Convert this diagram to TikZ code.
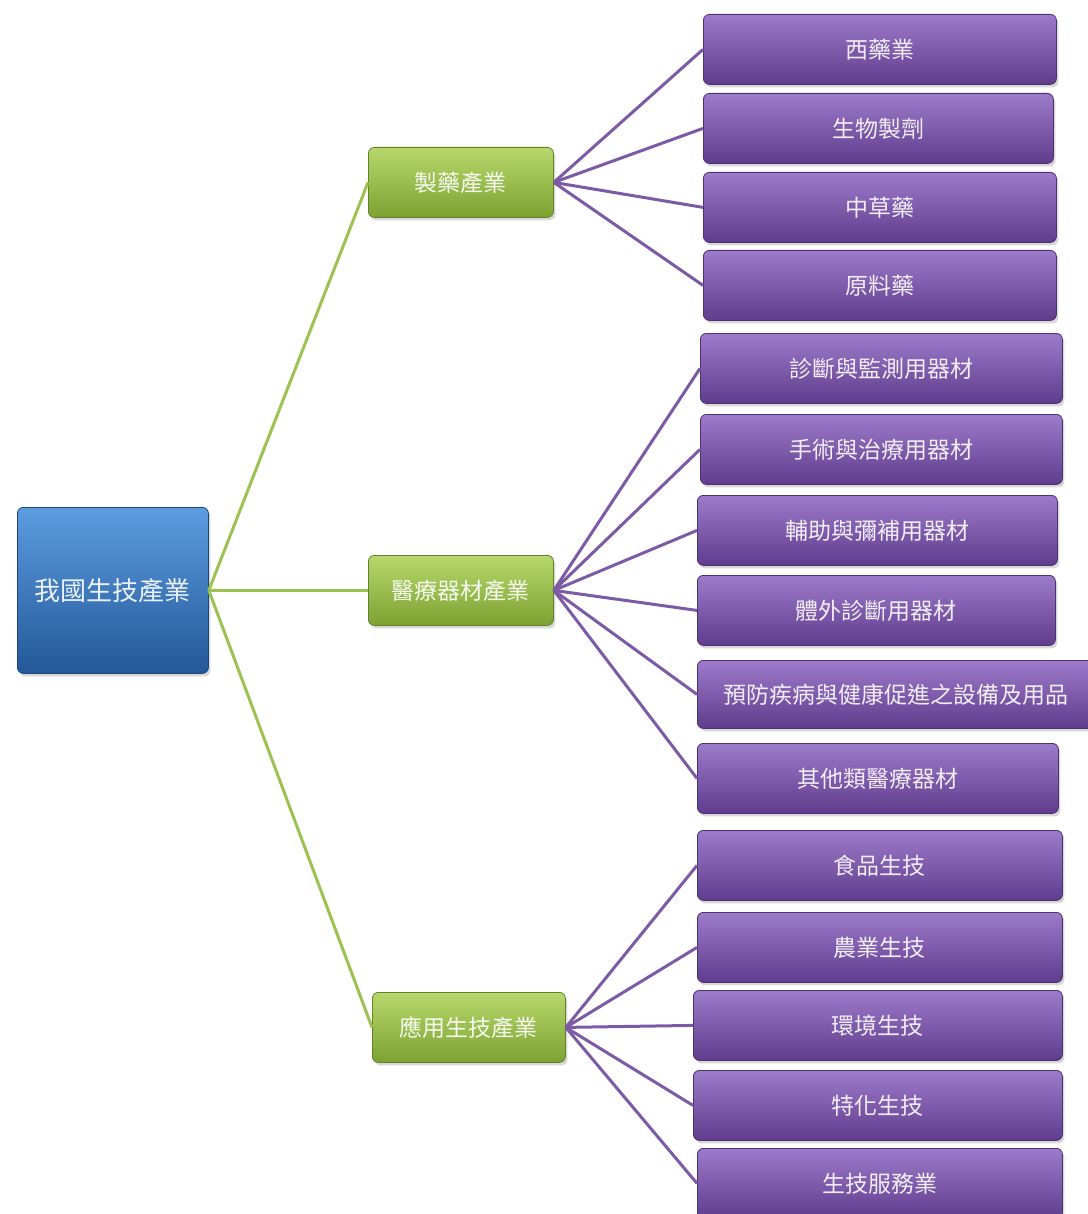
\documentclass[tikz,border=0pt]{standalone}
\usepackage{fontspec}
\newfontfamily\cjk{Noto Sans CJK TC}
\usetikzlibrary{shadows}
\definecolor{pfill}{HTML}{7550A2}
\definecolor{ptop}{HTML}{9C7BCA}
\definecolor{pbot}{HTML}{603D8C}
\definecolor{pline}{HTML}{7D5AA6}
\definecolor{gtop}{HTML}{B7D86C}
\definecolor{gmid}{HTML}{93BA3E}
\definecolor{gbot}{HTML}{7CA232}
\definecolor{gline}{HTML}{9CC352}
\definecolor{btop}{HTML}{5C9CE0}
\definecolor{bmid}{HTML}{3070B8}
\definecolor{bbot}{HTML}{235899}
\tikzset{
  boxbase/.style={rounded corners=6pt, inner sep=0pt, anchor=north west,
    drop shadow={shadow xshift=2pt, shadow yshift=-3pt, opacity=0.3}},
  leafbox/.style={boxbase, draw=pbot!80!black, line width=0.8pt,
    top color=ptop, middle color=pfill, bottom color=pbot,
    text=white!90!pfill, font=\cjk\fontsize{23}{26}\selectfont},
  midbox/.style={boxbase, draw=gbot!80!black, line width=0.8pt,
    top color=gtop, middle color=gmid, bottom color=gbot,
    text=white!92!gmid, font=\cjk\fontsize{23}{26}\selectfont},
  rootbox/.style={boxbase, draw=bbot!80!black, line width=0.8pt,
    top color=btop, middle color=bmid, bottom color=bbot,
    text=white!90!bmid, font=\cjk\fontsize{26}{30}\selectfont},
  pconn/.style={draw=pline, line width=3pt},
  gconn/.style={draw=gline, line width=3pt},
}
\newcommand{\leaf}[6]{% name, x0, y0, w, h, text
  \node[leafbox, minimum width=#4pt, minimum height=#5pt] (#1) at (#2,#3) {#6};}
\begin{document}
\begin{tikzpicture}[x=1pt,y=-1pt]
\useasboundingbox (0,0) rectangle (1087,1214);
\fill[white] (0,0) rectangle (1087,1214);

\node[rootbox, minimum width=191pt, minimum height=166pt] (root) at (17,507) {我國生技產業};
\node[midbox, minimum width=185pt, minimum height=70pt] (g1) at (368,147) {製藥產業};
\node[midbox, minimum width=185pt, minimum height=70pt] (g2) at (368,555) {醫療器材產業};
\node[midbox, minimum width=193pt, minimum height=70pt] (g3) at (372,992) {應用生技產業};

\leaf{p1}{703}{14}{353}{70}{西藥業}
\leaf{p2}{703}{93}{350}{70}{生物製劑}
\leaf{p3}{703}{172}{353}{70}{中草藥}
\leaf{p4}{703}{250}{353}{70}{原料藥}
\leaf{p5}{700}{333}{362}{70}{診斷與監測用器材}
\leaf{p6}{700}{414}{362}{70}{手術與治療用器材}
\leaf{p7}{697}{495}{360}{70}{輔助與彌補用器材}
\leaf{p8}{697}{575}{358}{70}{體外診斷用器材}
\leaf{p9}{697}{660}{398}{68}{預防疾病與健康促進之設備及用品}
\leaf{p10}{697}{743}{361}{70}{其他類醫療器材}
\leaf{p11}{697}{830}{365}{70}{食品生技}
\leaf{p12}{697}{912}{365}{70}{農業生技}
\leaf{p13}{693}{990}{369}{70}{環境生技}
\leaf{p14}{693}{1070}{369}{70}{特化生技}
\leaf{p15}{697}{1148}{365}{70}{生技服務業}

\begin{scope}[on background layer/.style={}]
\end{scope}
\foreach \g in {g1,g2,g3} \draw[gconn] (root.east) -- (\g.west);
\foreach \p in {p1,p2,p3,p4} \draw[pconn] (g1.east) -- (\p.west);
\foreach \p in {p5,p6,p7,p8,p9,p10} \draw[pconn] (g2.east) -- (\p.west);
\foreach \p in {p11,p12,p13,p14,p15} \draw[pconn] (g3.east) -- (\p.west);
\end{tikzpicture}
\end{document}
